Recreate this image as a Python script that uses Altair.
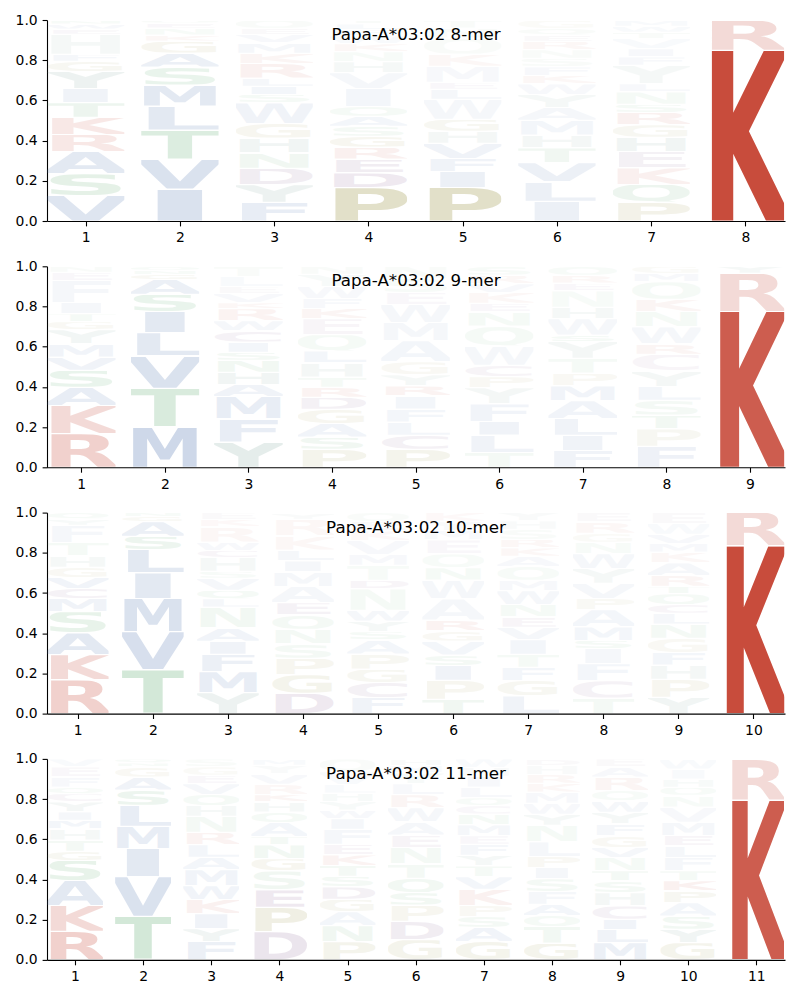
import urllib.parse
import altair as alt
import pandas as pd

ALLELE = "Papa-A*03:02"

# ---- 8-mer: letters per position (bottom -> top), heights, opacities ----
MER8_LETTERS = ["VSARKTIYGFHEWN", "IVTLMSAGKNEQ", "FYDNHGWSILRKMVEQ", "PDERGSAQIVHNKWFLT",
                "PIFVHGWLEMKQNT", "ILVTHMAYWKFSNREQG", "PQKEHGRSNLYFIVTWM", "KR"]
MER8_HEIGHTS = [
    [.126, .108, .11, .085, .085, .072, .07, .085, .05, .035, .1, .025, .025, .02],
    [.16, .15, .145, .12, .105, .09, .07, .06, .03, .035, .025, .015],
    [.09, .085, .08, .075, .07, .07, .1, .04, .04, .04, .07, .05, .05, .04, .03, .04],
    [.167, .075, .07, .06, .055, .05, .05, .05, .09, .08, .055, .05, .04, .04, .03, .03, .02],
    [.167, .08, .065, .075, .06, .06, .1, .05, .035, .08, .06, .08, .05, .04],
    [.093, .09, .09, .07, .06, .07, .06, .06, .05, .04, .04, .04, .04, .04, .03, .03, .04],
    [.093, .085, .08, .08, .07, .06, .06, .04, .06, .04, .09, .04, .04, .05, .03, .03, .03],
    [.85, .15],
]
MER8_ALPHAS = [
    [.18, .15, .15, .12, .12, .1, .08, .1, .07, .05, .05, .04, .04, .04],
    [.2, .2, .2, .15, .15, .12, .1, .08, .04, .04, .04, .03],
    [.12, .1, .1, .08, .08, .08, .08, .05, .06, .05, .07, .05, .05, .04, .03, .03],
    [.3, .12, .1, .08, .08, .06, .06, .05, .06, .05, .05, .04, .04, .03, .03, .03, .03],
    [.3, .1, .08, .08, .06, .07, .05, .05, .04, .04, .04, .03, .03, .03],
    [.1, .1, .1, .08, .06, .06, .05, .05, .04, .04, .04, .03, .03, .04, .03, .03, .03],
    [.12, .1, .08, .08, .08, .07, .07, .05, .05, .04, .05, .04, .04, .03, .03, .03, .03],
    [1.0, .2],
]

# ---- 9-mer ----
MER9_LETTERS = ["RKASVMYGTIFEN", "MTVLISAGNQ", "YFMAHNSICWRKVELT", "PSAGDRTHLQEKFWYN",
                "PCLFIRYGAMWESN", "TLIFYPCWQNEKVRS", "FILAMPTYSWHNERQ", "FPTSLYCRWNKQMG", "KRY"]
MER9_HEIGHTS = [
    [.167, .14, .09, .085, .065, .065, .07, .04, .04, .055, .11, .04, .03],
    [.2, .19, .16, .115, .105, .085, .073, .025, .02, .02],
    [.125, .115, .11, .06, .06, .06, .04, .05, .055, .05, .06, .03, .045, .035, .05, .05],
    [.09, .06, .068, .07, .06, .05, .05, .07, .06, .08, .08, .05, .05, .06, .06, .04],
    [.09, .07, .065, .065, .065, .05, .055, .065, .105, .09, .09, .06, .07, .06],
    [.068, .08, .063, .08, .075, .05, .053, .09, .09, .065, .04, .05, .04, .04, .04],
    [.085, .078, .085, .09, .075, .065, .075, .085, .033, .083, .058, .083, .04, .04, .045],
    [.1, .083, .066, .07, .066, .074, .08, .05, .08, .074, .058, .083, .04, .034],
    [.775, .19, .035],
]
MER9_ALPHAS = [
    [.25, .2, .12, .12, .08, .07, .07, .06, .05, .05, .05, .04, .03],
    [.27, .22, .2, .15, .15, .12, .1, .06, .04, .04],
    [.15, .12, .12, .08, .08, .07, .06, .06, .07, .05, .06, .04, .04, .03, .03, .03],
    [.1, .08, .07, .08, .08, .06, .05, .06, .06, .05, .05, .05, .04, .04, .04, .03],
    [.1, .08, .06, .06, .06, .06, .05, .06, .06, .05, .05, .04, .04, .03],
    [.06, .08, .08, .07, .06, .06, .06, .05, .05, .05, .04, .04, .04, .04, .04],
    [.08, .08, .08, .07, .07, .06, .05, .06, .05, .05, .05, .04, .04, .04, .04],
    [.09, .07, .07, .06, .06, .06, .05, .05, .05, .05, .05, .05, .04, .04],
    [.9, .2, .05],
]

# ---- 10-mer ----
MER10_LETTERS = ["RKASMCVGHTFYQ", "TVMILSAGN", "YMFIANLQVSHCWRKE", "DGPSNQEAMILKRY",
                 "FCGPASYWNDTMVKEQ", "TPISVGRAWNQEMYK", "LGFTIVENWMQAKRSHY", "TCFISMAPVYWNGRE",
                 "YPHFGNLCQTRAKMVWE", "KR"]
MER10_HEIGHTS = [
    [.167, .125, .108, .105, .065, .05, .055, .05, .058, .065, .085, .033, .03],
    [.217, .19, .166, .127, .116, .066, .073, .025, .02],
    [.1, .1, .083, .063, .063, .1, .04, .04, .058, .033, .066, .033, .04, .075, .033, .033],
    [.093, .085, .075, .066, .066, .066, .055, .075, .066, .05, .05, .066, .075, .03],
    [.075, .07, .063, .07, .066, .038, .05, .05, .1, .04, .07, .05, .066, .045, .045, .04],
    [.068, .09, .07, .05, .066, .05, .05, .1, .09, .058, .066, .066, .045, .045, .04],
    [.085, .075, .063, .063, .07, .06, .05, .06, .066, .05, .066, .05, .04, .04, .05, .04, .04],
    [.068, .076, .075, .066, .035, .06, .075, .05, .066, .065, .065, .05, .04, .05, .04],
    [.076, .083, .066, .058, .066, .066, .05, .04, .05, .035, .05, .058, .05, .04, .043, .05, .05],
    [.835, .165],
]
MER10_ALPHAS = [
    [.25, .2, .15, .13, .08, .07, .07, .06, .05, .05, .05, .04, .04],
    [.25, .22, .2, .15, .15, .1, .1, .05, .04],
    [.1, .12, .1, .08, .07, .07, .05, .05, .05, .04, .05, .05, .04, .04, .03, .03],
    [.12, .1, .08, .06, .06, .06, .07, .05, .05, .05, .05, .04, .04, .03],
    [.08, .08, .07, .07, .06, .05, .05, .05, .05, .05, .04, .04, .04, .03, .03, .03],
    [.08, .08, .08, .06, .06, .06, .06, .05, .05, .05, .04, .04, .03, .03, .03],
    [.08, .07, .06, .05, .06, .05, .05, .05, .05, .04, .04, .04, .04, .04, .03, .03, .03],
    [.06, .07, .06, .05, .05, .06, .06, .05, .05, .05, .05, .04, .04, .04, .03],
    [.08, .08, .06, .06, .06, .06, .05, .05, .05, .05, .05, .05, .04, .04, .04, .03, .03],
    [1.0, .2],
]

# ---- 11-mer ----
MER11_LETTERS = ["RKASGTHMIYCQFEV", "TVIMLSAGNQ", "FYIKWMALRNHQVEGS", "DPESGNTAQHKRVYM",
                 "PNAGDSTKEFIWYHLVQ", "GDPSQTNEAWRLYMH", "GASPKVTYFEMNCQLIHW", "GTQAFSIPLNYWMKRHD",
                 "MLICHSTNVGFYWQRAE", "GYSAPKTFLEMVNQHIW", "KR"]
MER11_HEIGHTS = [
    [.143, .128, .124, .1, .046, .055, .058, .041, .041, .05, .041, .033, .05, .05, .04],
    [.217, .196, .14, .11, .105, .075, .065, .05, .02, .02],
    [.085, .06, .07, .066, .063, .075, .058, .058, .058, .075, .05, .05, .05, .04, .04, .036],
    [.134, .116, .083, .09, .058, .066, .04, .066, .05, .05, .033, .05, .05, .04, .03],
    [.085, .075, .066, .058, .058, .05, .05, .05, .05, .07, .05, .04, .04, .04, .04, .06, .06],
    [.093, .085, .075, .058, .066, .066, .075, .058, .06, .066, .06, .05, .05, .035, .03],
    [.085, .066, .05, .05, .075, .058, .05, .05, .05, .04, .05, .05, .04, .035, .05, .05, .04, .04],
    [.076, .075, .05, .05, .058, .058, .05, .05, .066, .075, .05, .05, .05, .04, .04, .04, .03],
    [.085, .066, .05, .066, .066, .058, .05, .066, .05, .058, .058, .058, .058, .05, .066, .05, .04],
    [.085, .066, .066, .066, .058, .05, .05, .066, .058, .05, .066, .075, .058, .04, .04, .05, .05],
    [.795, .205],
]
MER11_ALPHAS = [
    [.25, .2, .15, .13, .07, .06, .05, .06, .05, .06, .05, .04, .04, .04, .03],
    [.25, .2, .15, .12, .12, .1, .08, .06, .04, .04],
    [.1, .08, .08, .07, .07, .07, .06, .06, .06, .06, .05, .05, .05, .04, .04, .03],
    [.15, .15, .12, .08, .08, .07, .06, .06, .05, .05, .05, .04, .04, .03, .03],
    [.1, .08, .06, .07, .08, .06, .06, .06, .05, .05, .05, .04, .04, .04, .03, .03, .03],
    [.1, .1, .08, .07, .07, .06, .06, .06, .05, .05, .05, .04, .04, .03, .03],
    [.1, .07, .06, .06, .07, .06, .05, .05, .05, .04, .05, .05, .04, .04, .04, .04, .03, .03],
    [.1, .07, .05, .06, .05, .06, .05, .06, .05, .05, .05, .04, .04, .04, .04, .03, .03],
    [.1, .08, .07, .07, .06, .06, .06, .05, .05, .06, .05, .05, .05, .04, .05, .04, .03],
    [.1, .08, .07, .06, .07, .07, .05, .05, .05, .05, .05, .04, .04, .04, .04, .03, .03],
    [.9, .2],
]

PANELS = [
    (8, MER8_LETTERS, MER8_HEIGHTS, MER8_ALPHAS),
    (9, MER9_LETTERS, MER9_HEIGHTS, MER9_ALPHAS),
    (10, MER10_LETTERS, MER10_HEIGHTS, MER10_ALPHAS),
    (11, MER11_LETTERS, MER11_HEIGHTS, MER11_ALPHAS),
]

# ---- styling ----
GROUP_COLORS = {
    "AVLIMFW": "#4c72b0",
    "STNQ": "#55a868",
    "KR": "#c84c3c",
    "YH": "#558c7d",
    "DEC": "#82558c",
    "PG": "#a09a50",
}
LETTER_COLOR = {l: c for group, c in GROUP_COLORS.items() for l in group}

PLOT_W, PLOT_H = 738, 201
GLYPH_FRAC = 0.82


def glyph_url(letter):
    svg = (
        '<svg xmlns="http://www.w3.org/2000/svg" width="100" height="100" '
        'viewBox="6 -72.9 88 72.9" preserveAspectRatio="none">'
        '<text x="0" y="0" font-family="DejaVu Sans" font-weight="bold" font-size="100" '
        'textLength="100" lengthAdjust="spacingAndGlyphs" '
        f'fill="{LETTER_COLOR[letter]}">{letter}</text></svg>'
    )
    return "data:image/svg+xml;charset=utf-8," + urllib.parse.quote(svg, safe="")


GLYPH_URL = {l: glyph_url(l) for l in LETTER_COLOR}


def logo_panel(n, letters, heights, alphas):
    rows = []
    for p, (ls, hs, als) in enumerate(zip(letters, heights, alphas), start=1):
        for k, (l, h, a) in enumerate(zip(ls, hs, als)):
            rows.append({"pos": p, "k": k, "letter": l, "h": h, "a": a, "url": GLYPH_URL[l]})
    df = pd.DataFrame(rows)
    lo, hi = 0.59, n + 0.42
    glyph_w = GLYPH_FRAC * PLOT_W / (hi - lo)

    logo = (
        alt.Chart(df)
        .transform_stack(
            stack="h", groupby=["pos"], as_=["s0", "s1"], offset="normalize",
            sort=[alt.SortField(field="k", order="ascending")],
        )
        .transform_calculate(yc="(datum.s0 + datum.s1) / 2")
        .mark_image(
            aspect=False,
            width=glyph_w,
            height={"expr": f"max(0, (datum.s1 - datum.s0) * {PLOT_H} - 1)"},
        )
        .encode(
            x=alt.X("pos:Q",
                    scale=alt.Scale(domain=[lo, hi], nice=False, zero=False),
                    axis=alt.Axis(values=list(range(1, n + 1)), format="d", title=None,
                                  grid=False, labelFlush=False)),
            y=alt.Y("yc:Q",
                    scale=alt.Scale(domain=[0, 1], nice=False),
                    axis=alt.Axis(values=[0, 0.2, 0.4, 0.6, 0.8, 1.0], format=".1f", title=None,
                                  grid=False, labelFlush=False)),
            url=alt.Url("url:N"),
            opacity=alt.Opacity("a:Q", scale=None, legend=None),
        )
    )
    title = (
        alt.Chart(pd.DataFrame({"t": [f"{ALLELE} {n}-mer"]}))
        .mark_text(font="DejaVu Sans", fontSize=16.7, color="black",
                   align="center", baseline="middle")
        .encode(text="t:N", x=alt.value(PLOT_W / 2), y=alt.value(15))
    )
    return alt.layer(logo, title).properties(width=PLOT_W, height=PLOT_H)


chart = (
    alt.vconcat(*[logo_panel(*p) for p in PANELS], spacing=45.3, bounds="flush")
    .properties(padding={"left": 7, "top": 5, "right": 5, "bottom": 5})
    .configure_view(stroke=None)
    .configure_axis(
        domainColor="black", domainWidth=1.1, tickColor="black", tickWidth=1.1, tickSize=4.9,
        labelColor="black", labelFont="DejaVu Sans", labelFontSize=13.9, labelPadding=4.9,
    )
)

chart.save("out.html", embed_options={"renderer": "svg", "actions": False})
